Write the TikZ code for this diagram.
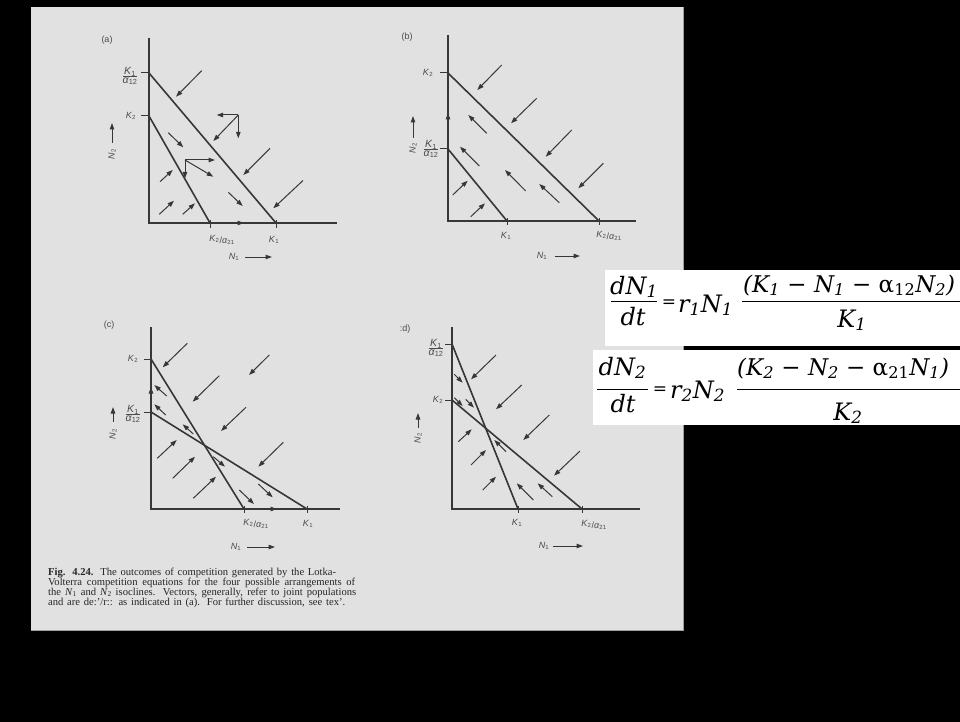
\documentclass[tikz,border=0pt]{standalone}
\usepackage{fontspec}
\setmainfont{Liberation Serif}
\newfontfamily\lsans{Liberation Sans}
\newfontfamily\eqf{DejaVu Serif}
\usetikzlibrary{arrows.meta}
\definecolor{pagecol}{RGB}{225,225,225}
\definecolor{inkcol}{RGB}{55,55,55}
\definecolor{labcol}{RGB}{75,75,75}
\newcommand\Ks[1]{\textit{K}\textsubscript{#1}}
\newcommand\Ns[1]{\textit{N}\textsubscript{#1}}
\newcommand\Al[1]{\textit{α}\textsubscript{#1}}
\newcommand\fracl[2]{{\fontsize{10.5}{11}\selectfont$\frac{\mbox{#1}}{\mbox{#2}}$}}
\newcommand\KA{\raisebox{1.5pt}{\Ks{2}}/\Al{21}}
\begin{document}
\begin{tikzpicture}[x=1pt,y=-1pt,
  axln/.style={draw=inkcol,line width=1.2pt},
  isoln/.style={draw=inkcol,line width=1.6pt},
  vecarr/.style={draw=inkcol,line width=1pt,-{Triangle[length=6.5pt,width=4.5pt]}},
  tickln/.style={draw=inkcol,line width=1pt},
  lab/.style={text=labcol,font=\lsans\fontsize{9}{10}\selectfont,inner sep=0pt},
  captxt/.style={anchor=base west,inner sep=0pt,text=black!85,font=\fontsize{10.6}{11}\selectfont},
  eqtxt/.style={inner sep=0pt,text=black,font=\eqf\itshape\fontsize{24}{26}\selectfont},
  eqbar/.style={draw=black,line width=1.4pt}]
\fill[black] (0,0) rectangle (960,722);
\useasboundingbox (0,0) rectangle (960,722);
\fill[pagecol] (31,7) rectangle (683,630);
\draw[gray!75,line width=0.6pt] (683,7) -- (683,630) -- (31,630);

% ---------------- panel (a)
\node[lab] (la) at (107,40) {(a)};
\draw[axln] (149,38) -- (149,223) -- (337,223);
\draw[tickln] (141,73) -- (149,73) (141,116) -- (149,116) (210,220) -- (210,228) (276,220) -- (276,228);
\draw[isoln] (149,73) -- (276,223);
\draw[isoln] (149,116) -- (210,223);
\node[lab] (a1) at (130,76) {\fracl{\Ks{1}}{\Al{12}}};
\node[lab] (a2) at (131,116) {\Ks{2}};
\node[lab] (a3) at (222,240) {\KA};
\node[lab] (a4) at (274,240) {\Ks{1}};
\node[lab] (a5) at (234,257) {\Ns{1}};
\draw[vecarr] (245,257) -- (272,257);
\node[lab,rotate=90] (a6) at (112,154) {\Ns{2}};
\draw[vecarr] (112,143) -- (112,123);
\foreach \xa/\ya/\xb/\yb in {201.7/70.7/176/96.7, 238.3/115/213.3/141, 238.3/115/216.7/115,
  238.3/115/238.3/138.3, 270/148.3/243.3/175, 303/180.5/273.3/208.3, 168.3/132.7/183.3/147.3,
  185/160/215/160, 185/160/185/178.3, 185/160/213.3/176.7, 160/181.7/172.7/170,
  159.3/214.3/174/200.7, 182.7/214.3/195/203.3, 228.3/192.3/242.7/206, 237/223/244/223}
  \draw[vecarr] (\xa,\ya) -- (\xb,\yb);

% ---------------- panel (b)
\node[lab] (lb) at (407,37) {(b)};
\draw[axln] (448,35) -- (448,221) -- (636,221);
\draw[tickln] (440,73) -- (448,73) (440,149) -- (448,149) (507,218) -- (507,225) (599,218) -- (599,225);
\draw[isoln] (448,73) -- (599,221);
\draw[isoln] (448,149) -- (507,221);
\node[lab] (b1) at (428,73) {\Ks{2}};
\node[lab] (b2) at (431,149) {\fracl{\Ks{1}}{\Al{12}}};
\node[lab] (b3) at (506,236) {\Ks{1}};
\node[lab] (b4) at (609,236) {\KA};
\node[lab] (b5) at (542,256) {\Ns{1}};
\draw[vecarr] (555,256) -- (580,256);
\node[lab,rotate=90] (b6) at (413,148) {\Ns{2}};
\draw[vecarr] (413,138) -- (413,116);
\foreach \xa/\ya/\xb/\yb in {501.7/65/477.3/90, 536.7/98.3/511/123.3, 571.7/130/545.7/156.7,
  603.3/163.3/578.3/188.3, 486.7/133.3/468.3/115, 479.3/166/460/146.7, 525.7/191/505/170,
  559.3/202.7/539.3/184, 452.7/195/467.7/180.7, 470.7/216.7/485/203.3, 448/120/448/113}
  \draw[vecarr] (\xa,\ya) -- (\xb,\yb);

% ---------------- panel (c)
\node[lab] (lc) at (109,325) {(c)};
\draw[axln] (151,327) -- (151,509) -- (340,509);
\draw[tickln] (144,359) -- (151,359) (144,412) -- (151,412) (244,506) -- (244,513) (307,506) -- (307,513);
\draw[isoln] (151,359) -- (244,509);
\draw[isoln] (151,412) -- (307,509);
\node[lab] (c1) at (133,359) {\Ks{2}};
\node[lab] (c2) at (133,414) {\fracl{\Ks{1}}{\Al{12}}};
\node[lab] (c3) at (256,524) {\KA};
\node[lab] (c4) at (308,524) {\Ks{1}};
\node[lab] (c5) at (236,547) {\Ns{1}};
\draw[vecarr] (247,547) -- (275,547);
\node[lab,rotate=90] (c6) at (113,434) {\Ns{2}};
\draw[vecarr] (113,422) -- (113,407);
\foreach \xa/\ya/\xb/\yb in {187.3/343.3/162.7/367.3, 269.3/355/249/375, 219.3/375.7/192.7/401.7,
  246/407.3/221/431, 283.3/442.3/258.3/466.7, 166.7/396/154.3/385, 165.7/415/154.3/404.3,
  193.3/434/182.7/424.3, 157.3/458.3/176.7/440, 172.7/478.3/195/456.7, 193.3/498.3/216/476.7,
  213.3/456.7/225/466.7, 239.3/490/254/504, 258.3/484/272.7/497.3, 151/394/151/387, 270/509/277/509}
  \draw[vecarr] (\xa,\ya) -- (\xb,\yb);

% ---------------- panel (d)
\node[lab] (ld) at (405,329) {:d)};
\draw[axln] (452,327) -- (452,509) -- (640,509);
\draw[tickln] (445,344) -- (452,344) (445,400) -- (452,400) (518,506) -- (518,513) (582,506) -- (582,513);
\draw[isoln] (452,344) -- (518,509);
\draw[isoln] (452,400) -- (582,509);
\node[lab] (d1) at (436,348) {\fracl{\Ks{1}}{\Al{12}}};
\node[lab] (d2) at (438,400) {\Ks{2}};
\node[lab] (d3) at (517,523) {\Ks{1}};
\node[lab] (d4) at (594,525) {\KA};
\node[lab] (d5) at (544,546) {\Ns{1}};
\draw[vecarr] (553,546) -- (583,546);
\node[lab,rotate=90] (d6) at (418,438) {\Ns{2}};
\draw[vecarr] (418,428) -- (418,413);
\foreach \xa/\ya/\xb/\yb in {496/355/471/379.3, 521.7/385/496/409.3, 549.3/415/523.3/440,
  580/451/554/475.7, 454.3/374.3/462.7/382.7, 454.3/397.7/462.7/406, 465.7/399.3/474/407.7,
  458.3/441.7/471.7/429.3, 471/465/486/450, 482.7/490/496/476.7, 506/451.7/494.3/440,
  533.3/500/516.7/483.3, 552.3/496.7/537.7/483.3}
  \draw[vecarr] (\xa,\ya) -- (\xb,\yb);

% ---------------- caption
\node[captxt] (t1) at (48,575) {\makebox[288pt][s]{\textbf{Fig. 4.24.} The outcomes of competition generated by the Lotka-}};
\node[captxt] (t2) at (48,585) {\makebox[307pt][s]{Volterra competition equations for the four possible arrangements of}};
\node[captxt] (t3) at (48,595) {\makebox[308pt][s]{the \Ns{1} and \Ns{2} isoclines. Vectors, generally, refer to joint populations}};
\node[captxt] (t4) at (48,605) {\makebox[297pt][s]{and are de:'/r:: as indicated in (a). For further discussion, see tex'.}};

% ---------------- equations
\fill[white] (605,270) rectangle (960,346);
\fill[white] (593,350) rectangle (960,425);
\begin{scope}
\clip (593,260) rectangle (960,430);
\node[eqtxt,anchor=base] (e1) at (634,294) {d\Ns{1}};
\draw[eqbar] (611,301.7) -- (657,301.7);
\node[eqtxt,anchor=base] (e2) at (633,325) {dt};
\node[eqtxt,font=\eqf\fontsize{17}{20}\selectfont] (e3) at (669,304) {=};
\node[eqtxt,anchor=base west] (e4) at (678,312) {r\textsubscript{1}\Ns{1}};
\node[eqtxt,anchor=base west,font=\eqf\itshape\fontsize{23}{26}\selectfont] (e5) at (743,292) {(\Ks{1} \textup{−} \Ns{1} \textup{− α\textsubscript{12}}\Ns{2})};
\draw[eqbar] (742,301.7) -- (960,301.7);
\node[eqtxt,anchor=base] (e6) at (852,327) {\Ks{1}};

\node[eqtxt,anchor=base] (f1) at (622.5,375) {d\Ns{2}};
\draw[eqbar] (597,389.3) -- (648,389.3);
\node[eqtxt,anchor=base] (f2) at (623,412) {dt};
\node[eqtxt,font=\eqf\fontsize{17}{20}\selectfont] (f3) at (660,391) {=};
\node[eqtxt,anchor=base west] (f4) at (670,398) {r\textsubscript{2}\Ns{2}};
\node[eqtxt,anchor=base west,font=\eqf\itshape\fontsize{23}{26}\selectfont] (f5) at (737,375) {(\Ks{2} \textup{−} \Ns{2} \textup{− α\textsubscript{21}}\Ns{1})};
\draw[eqbar] (737,389.3) -- (960,389.3);
\node[eqtxt,anchor=base] (f6) at (848,420) {\Ks{2}};
\end{scope}
\end{tikzpicture}
\end{document}
